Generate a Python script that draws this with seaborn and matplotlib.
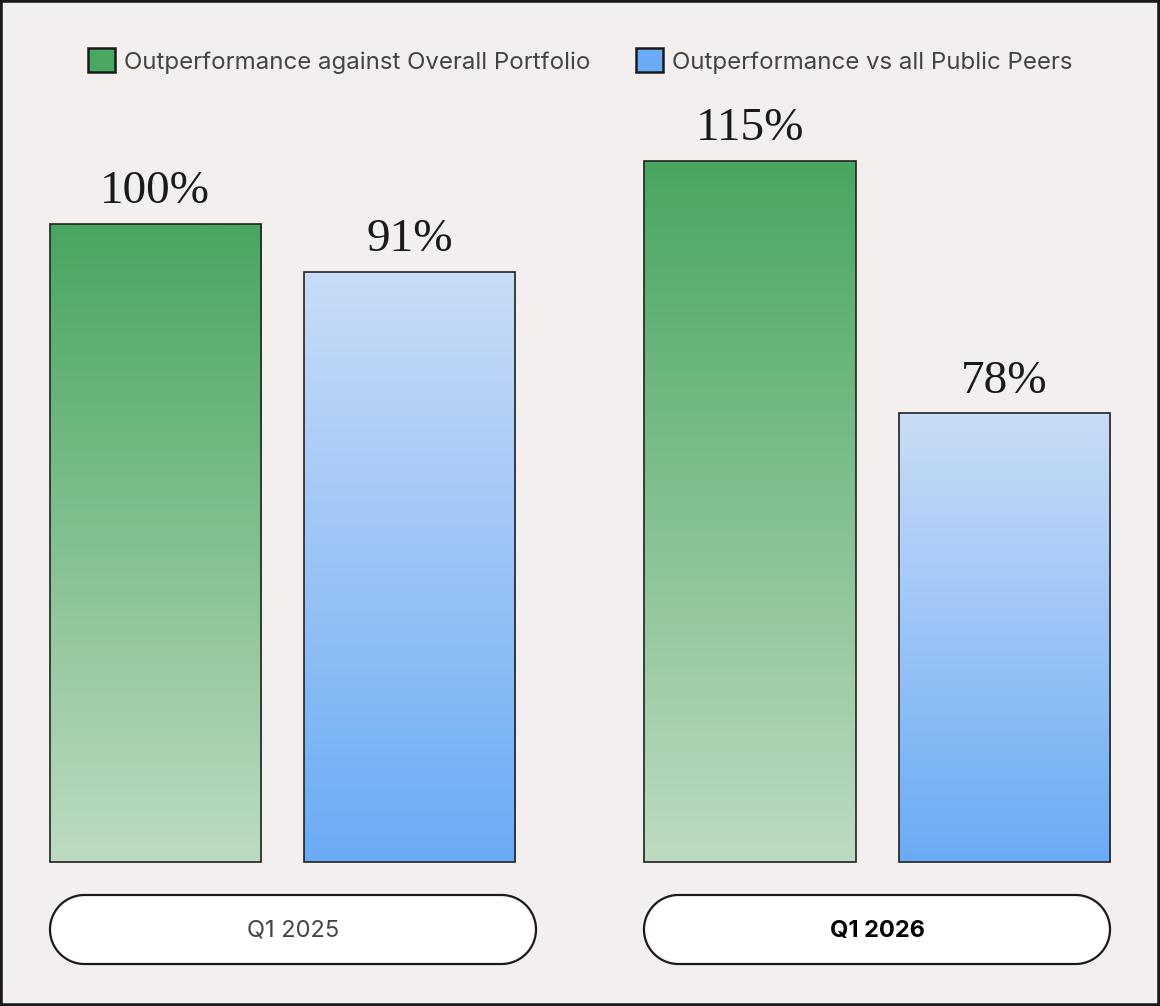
import numpy as np
import pandas as pd
import matplotlib
matplotlib.use("Agg")
import matplotlib.pyplot as plt
import matplotlib.patches as mpatches
from matplotlib.colors import LinearSegmentedColormap
import seaborn as sns

# ---- data ----
categories = ["Q1 2025", "Q1 2026"]
series = ["Outperformance against Overall Portfolio", "Outperformance vs all Public Peers"]
overall_heights = [100.0, 109.9]     # bar heights as drawn
peers_heights = [92.5, 70.3]
overall_labels = ["100%", "115%"]    # value labels printed above bars
peers_labels = ["91%", "78%"]

df = pd.DataFrame({
    "quarter": categories * 2,
    "series": [series[0]] * 2 + [series[1]] * 2,
    "height": overall_heights + peers_heights,
    "label": overall_labels + peers_labels,
})

BG = "#f4efef"
GREEN = "#4aa862"
BLUE = "#6aabf5"
grad = {
    series[0]: ("#48a660", "#bddbc1"),   # top, bottom
    series[1]: ("#c9dcf7", "#6aabf5"),
}
palette = {series[0]: GREEN, series[1]: BLUE}

sns.set_theme(style="white")
plt.rcParams["font.family"] = ["Inter", "DejaVu Sans"]

W, H = 1160, 1006
fig = plt.figure(figsize=(W / 100, H / 100), dpi=100)
fig.patch.set_facecolor(BG)
ax = fig.add_axes([0, 0, 1, 1])
ax.set_facecolor(BG)

sns.barplot(data=df, x="quarter", y="height", hue="series", order=categories,
            hue_order=series, palette=palette, saturation=1, width=0.855, gap=0.169,
            edgecolor="#222222", linewidth=1.2, legend=False, ax=ax)

# coordinate mapping
unit = 594.75
x_center0 = 282.5
px_per_pct = 6.38
base_px = 862
xlim = (-x_center0 / unit, (W - x_center0) / unit)
ylim = (-(H - base_px) / px_per_pct, base_px / px_per_pct)

# gradient fills; seaborn draws bars hue by hue in hue_order
bars = list(ax.patches)
for i, p in enumerate(bars):
    s = series[i // len(categories)]
    top_c, bot_c = grad[s]
    cmap = LinearSegmentedColormap.from_list("g", [bot_c, top_c])
    x0, y0 = p.get_x(), p.get_y()
    w, h = p.get_width(), p.get_height()
    g = np.linspace(0, 1, 256).reshape(-1, 1)
    im = ax.imshow(g, extent=[x0, x0 + w, y0, y0 + h], origin="lower",
                   aspect="auto", cmap=cmap, zorder=1, interpolation="bilinear")
    im.set_clip_path(p)
    p.set_facecolor("none")
    p.set_zorder(2)
    lab = df[(df["series"] == s)]["label"].iloc[i % len(categories)]
    ax.annotate(lab, (x0 + w / 2, h), xytext=(0, 15), textcoords="offset points",
                ha="center", va="baseline", fontsize=34,
                family=["Liberation Serif", "DejaVu Serif"], color="#1a1a1a")

ax.set_xlim(*xlim)
ax.set_ylim(*ylim)
ax.set_xticks([])
ax.set_yticks([])
ax.set_xlabel("")
ax.set_ylabel("")
for sp in ax.spines.values():
    sp.set_visible(False)

# category pills (pixel geometry, y measured from top)
pills = [(50, 536), (644, 1110)]
pill_top, pill_bot = 895, 964
r0 = (pill_bot - pill_top) / 2
for i, (l, r) in enumerate(pills):
    yc = H - (pill_top + pill_bot) / 2
    t1 = np.linspace(np.pi / 2, -np.pi / 2, 80)
    t2 = np.linspace(1.5 * np.pi, np.pi / 2, 80)
    xs = np.concatenate([r - r0 + r0 * np.cos(t1), l + r0 + r0 * np.cos(t2)])
    ys = np.concatenate([yc + r0 * np.sin(t1), yc + r0 * np.sin(t2)])
    poly = mpatches.Polygon(np.column_stack([xs / W, ys / H]), closed=True,
                            transform=fig.transFigure, facecolor="white",
                            edgecolor="#1a1a1a", linewidth=1.6, zorder=3)
    fig.patches.append(poly)
    fig.text(((l + r) / 2) / W, (yc - 1) / H, categories[i],
             ha="center", va="center", fontsize=17,
             fontweight="bold" if i == 1 else "normal",
             color="#000000" if i == 1 else "#444444", zorder=4)

# legend
handles = [mpatches.Patch(facecolor=palette[s], edgecolor="#1a1a1a", linewidth=1.8, label=s)
           for s in series]
leg = ax.legend(handles=handles, loc="center", bbox_to_anchor=(0.5, 1 - 61 / H),
                ncol=2, frameon=False, fontsize=17.3, handlelength=1.15, handleheight=1.15,
                handletextpad=0.35, columnspacing=1.9, labelcolor="#444444")

# outer border
fig.patches.append(mpatches.Rectangle((0, 0), 1, 1, transform=fig.transFigure,
                                      fill=False, edgecolor="#1a1a1a", linewidth=4, zorder=10))

fig.savefig("out.png", dpi=100, facecolor=BG)
